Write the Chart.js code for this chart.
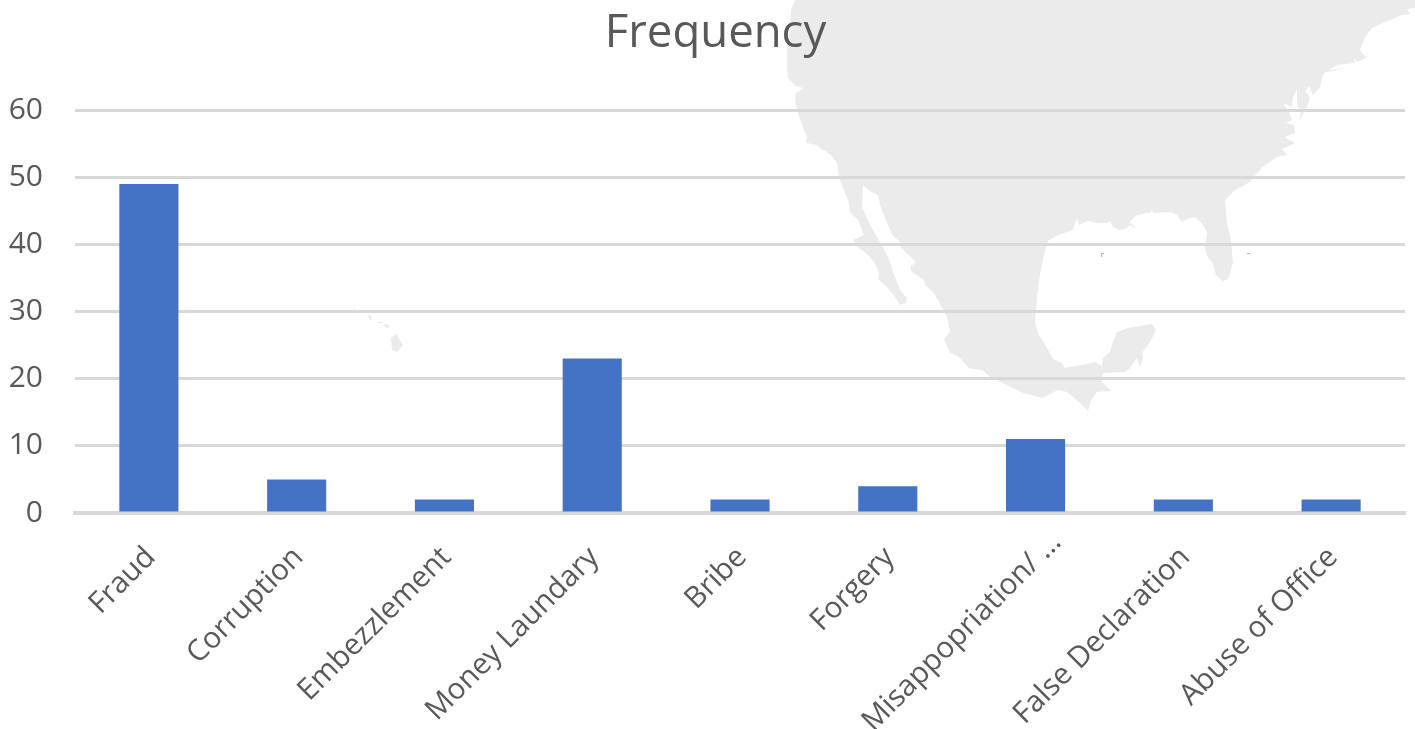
<!DOCTYPE html>
<html>
<head>
<meta charset="utf-8">
<title>Frequency</title>
<script src="https://cdn.jsdelivr.net/npm/chart.js@4"></script>
<style>
  html, body { margin: 0; background: #fff; overflow: hidden; }
  #wrap { position: relative; width: 1415px; height: 729px; }
  #map, #chart { position: absolute; left: 0; top: 0; }
</style>
</head>
<body>
<div id="wrap">
  <svg id="map" width="1415" height="729" viewBox="0 0 1415 729" xmlns="http://www.w3.org/2000/svg"></svg>
  <canvas id="chart" width="1415" height="729"></canvas>
</div>
<script>
  const categories = ['Fraud', 'Corruption', 'Embezzlement', 'Money Laundary', 'Bribe', 'Forgery', 'Misappopriation/ …', 'False Declaration', 'Abuse of Office'];
  const frequency = [49, 5, 2, 23, 2, 4, 11, 2, 2];

  const TEXT = '#595959';
  const LINE = '#d9d9d9';
  const LAND = '#ebebeb';
  const FONT = '"Open Sans", "Noto Sans", sans-serif';

  // backdrop map outline in px, clockwise from the top of the west coast
  const MAINLAND = [
    [795,0],[791,10],[790,30],[787,47],[787,67],[788,78],[796,86],[803,88],[798,92],[796,92],[795,102],[798,113],
    [803,128],[807,137],[806,143],[817,145],[821,149],[830,154],[837,163],[839,177],[843,188],[848,200],[850,212],
    [858,220],[864,235],[853,240],[858,247],[867,254],[875,263],[879,273],[878,279],[887,287],[895,297],[900,305],
    [906,303],[907,298],[900,290],[895,277],[888,257],[883,247],[877,237],[869,223],[862,207],[863,185],[870,191],
    [878,195],[880,205],[886,220],[892,235],[900,242],[901,248],[913,259],[916,262],[910,267],[912,272],[924,280],
    [925,285],[933,292],[938,300],[947,317],[950,332],[944,339],[950,353],[958,356],[969,368],[982,370],[990,377],
    [1007,385],[1023,393],[1042,398],[1058,390],[1067,392],[1080,403],[1088,411],[1090,402],[1097,392],[1111,391],
    [1102,382],[1103,373],[1125,372],[1130,368],[1137,358],[1140,367],[1143,358],[1142,353],[1150,342],[1156,330],
    [1152,324],[1140,326],[1128,328],[1117,332],[1113,342],[1110,352],[1103,358],[1102,366],[1095,362],[1082,365],
    [1065,368],[1062,363],[1053,359],[1047,348],[1038,333],[1035,322],[1037,300],[1039,280],[1043,260],[1046,247],
    [1048,241],[1058,235],[1073,230],[1075,222],[1078,219],[1079,225],[1088,221],[1097,223],[1107,223],[1110,221],
    [1113,227],[1119,230],[1125,229],[1130,225],[1137,230],[1130,222],[1135,216],[1145,213],[1150,213],[1152,209],
    [1153,213],[1170,212],[1177,215],[1182,222],[1190,218],[1195,217],[1202,223],[1207,232],[1205,248],[1208,258],
    [1213,263],[1216,275],[1223,281],[1228,279],[1233,263],[1231,240],[1227,223],[1225,200],[1235,190],[1250,182],
    [1257,173],[1265,165],[1277,157],[1287,155],[1282,149],[1295,143],[1287,139],[1285,137],[1295,133],[1294,125],
    [1286,123],[1292,120],[1289,112],[1283,103],[1292,107],[1293,97],[1297,89],[1297,100],[1298,107],[1302,110],
    [1298,122],[1307,107],[1310,98],[1305,91],[1309,86],[1313,95],[1320,87],[1323,75],[1326,72],[1347,68],[1328,70],
    [1338,65],[1355,63],[1354,57],[1357,62],[1362,60],[1370,55],[1365,57],[1360,50],[1365,37],[1372,28],[1385,22],
    [1402,15],[1410,14],[1407,9],[1415,8],[1415,0]
  ];
  // Hawaiian islands
  const ISLANDS = [
    [[391,338],[396,334],[403,345],[397,352],[392,350]],
    [[383,324],[386,324],[390,327],[387,328]],
    [[378,322],[383,322],[383,323],[378,323]],
    [[368,315],[370,315],[372,319],[370,320]],
    [[353,309],[355,308],[355,310]]
  ];
  // two tiny keys out in the gulf, darker than the land
  const SPECKS = [
    [[1101,253],[1104,253],[1104,254],[1102,254],[1102,257],[1101,257]],
    [[1247,253],[1250,253],[1250,254],[1247,254]]
  ];

  function polygon(points, fill) {
    return '<polygon fill="' + fill + '" points="' + points.map(p => p.join(',')).join(' ') + '"/>';
  }

  function drawMap() {
    let html = polygon(MAINLAND, LAND);
    ISLANDS.forEach(isle => { html += polygon(isle, LAND); });
    SPECKS.forEach(speck => { html += polygon(speck, '#b5b5b5'); });
    document.getElementById('map').innerHTML = html;
  }
  drawMap();

  const longLabel = categories.indexOf('Misappopriation/ …');

  const labelTweaks = {
    id: 'labelTweaks',
    // the title sits a little right of the canvas centre
    afterLayout(chart) {
      chart.titleBlock.left += 13;
      chart.titleBlock.right += 13;
    },
    // the cut-off label runs further up its slant than the others
    beforeDraw(chart) {
      const item = chart.scales.x.getLabelItems()[longLabel];
      if (item && !item.moved) {
        item.options.translation[0] += 19;
        item.options.translation[1] -= 15;
        item.moved = true;
      }
    }
  };

  new Chart(document.getElementById('chart').getContext('2d'), {
    type: 'bar',
    data: {
      labels: categories,
      datasets: [{
        label: 'Frequency',
        data: frequency,
        backgroundColor: '#4472c4',
        categoryPercentage: 1,
        barPercentage: 0.4
      }]
    },
    plugins: [labelTweaks],
    options: {
      responsive: false,
      animation: false,
      layout: { padding: { left: 0, right: 10, top: 0, bottom: 0 } },
      plugins: {
        legend: { display: false },
        tooltip: { enabled: false },
        title: {
          display: true,
          text: 'Frequency',
          color: TEXT,
          font: { family: FONT, size: 45.5, weight: 'normal' },
          padding: { top: 7, bottom: 48.4 }
        }
      },
      scales: {
        x: {
          grid: { display: false },
          border: { color: LINE, width: 4 },
          ticks: {
            color: TEXT,
            font: { family: FONT, size: 29.5 },
            minRotation: 45,
            maxRotation: 45,
            autoSkip: false,
            labelOffset: 2,
            padding: 19
          },
          afterFit(scale) { scale.height = 216; }
        },
        y: {
          min: 0,
          max: 60,
          grid: { color: LINE, lineWidth: 3, drawTicks: false },
          border: { display: false },
          ticks: {
            stepSize: 10,
            color: TEXT,
            font: { family: FONT, size: 30 },
            padding: 32
          },
          afterFit(scale) { scale.width = 75; }
        }
      }
    }
  });
</script>
</body>
</html>
